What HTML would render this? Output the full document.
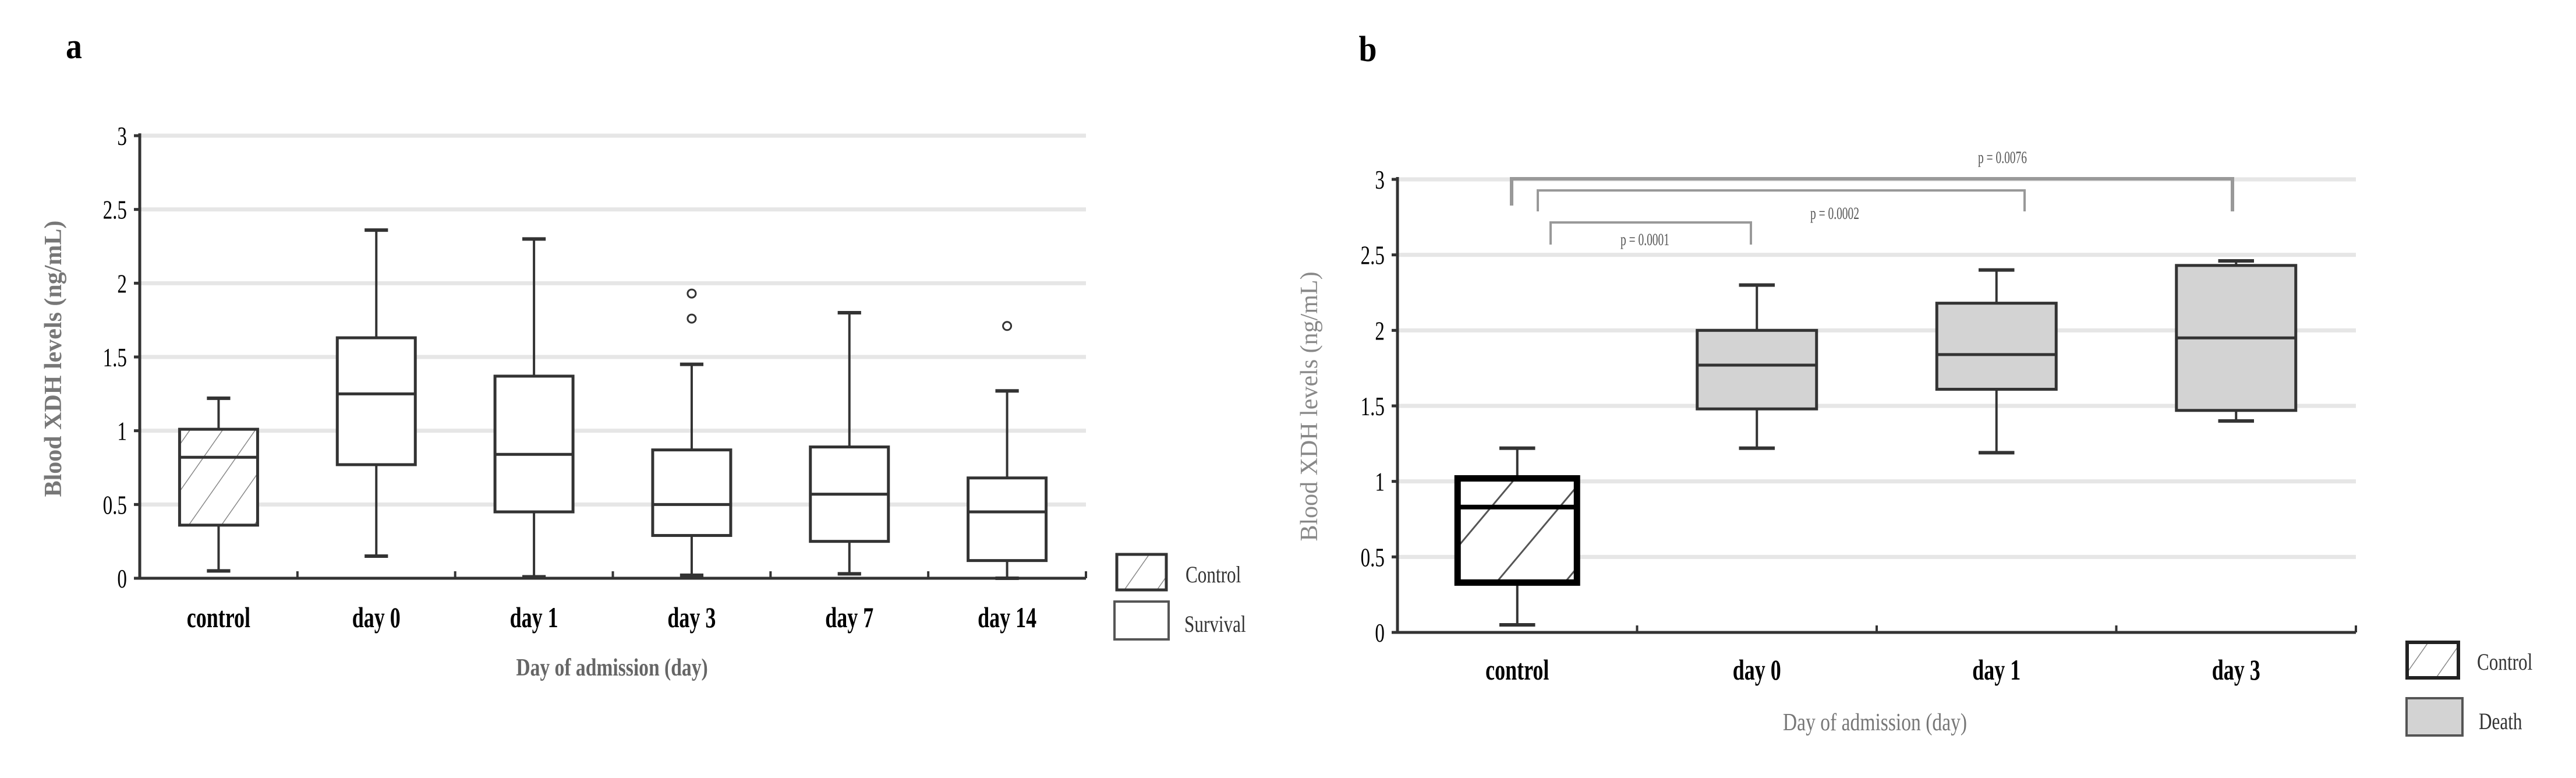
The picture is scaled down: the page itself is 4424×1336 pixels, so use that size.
<!DOCTYPE html>
<html><head><meta charset="utf-8"><style>
html,body{margin:0;padding:0;background:#fff;}
svg{display:block;font-family:"Liberation Serif",serif;}
</style></head><body>
<svg id="fig" width="4424" height="1336" viewBox="0 0 4424 1336" xmlns="http://www.w3.org/2000/svg">
<defs>
<pattern id="hatchA" patternUnits="userSpaceOnUse" width="46" height="46" patternTransform="rotate(35)">
<line x1="0" y1="0" x2="0" y2="46" stroke="#888" stroke-width="3"/></pattern>
<pattern id="hatchB" patternUnits="userSpaceOnUse" width="90" height="90" patternTransform="rotate(40)">
<line x1="0" y1="0" x2="0" y2="90" stroke="#555" stroke-width="6"/></pattern>
</defs>
<g id="pa"></g>
<g id="pb"></g>
</svg>
<script>
// Panel a data
const catsA = ["control","day 0","day 1","day 3","day 7","day 14"];
const minA = [0.05,0.15,0.01,0.02,0.03,0.00];
const q1A  = [0.36,0.77,0.45,0.29,0.25,0.12];
const medA = [0.82,1.25,0.84,0.50,0.57,0.45];
const q3A  = [1.01,1.63,1.37,0.87,0.89,0.68];
const maxA = [1.22,2.36,2.30,1.45,1.80,1.27];
const outA = [[],[],[],[1.93,1.76],[],[1.71]];
const ticksA = ["0","0.5","1","1.5","2","2.5","3"];
// Panel b data
const catsB = ["control","day 0","day 1","day 3"];
const minB = [0.05,1.22,1.19,1.40];
const q1B  = [0.33,1.48,1.61,1.47];
const medB = [0.83,1.77,1.84,1.95];
const q3B  = [1.02,2.00,2.18,2.43];
const maxB = [1.22,2.30,2.40,2.46];
const ticksB = ["0","0.5","1","1.5","2","2.5","3"];
const pLabels = ["p = 0.0076","p = 0.0002","p = 0.0001"];
const pPairs = [[0,3],[0,2],[0,1]];

const NS="http://www.w3.org/2000/svg";
function mk(parent,tag,attrs,text){const e=document.createElementNS(NS,tag);for(const k in attrs)e.setAttribute(k,attrs[k]);if(text!==undefined)e.textContent=text;parent.appendChild(e);return e;}
function ctext(parent,x,y,str,size,opts){
  const g=mk(parent,"g",{transform:`translate(${x},${y}) scale(${opts.sx||0.78},1)`});
  const t=mk(g,"text",{x:0,y:0,"font-size":size,"font-weight":opts.bold?"bold":"normal",fill:opts.fill||"#000","text-anchor":opts.anchor||"middle"},str);
  return t;
}

function panel(root,cfg){
  const {x0,x1,y0,y3,cats,mn,q1,md,q3,mx,bw,hatch,stroke}=cfg;
  const ys=v=>y0+(y3-y0)*v/3;
  const step=(x1-x0)/cats.length;
  const xs=i=>x0+step*(i+0.5);
  // gridlines
  cfg.ticks.forEach((lab,i)=>{
    const v=parseFloat(lab);
    if(v>0){const gl=mk(root,"line",{x1:x0,x2:x1,y1:ys(v),y2:ys(v),stroke:"#e6e6e6","stroke-width":7});
      
      }
    mk(root,"line",{x1:x0-10,x2:x0,y1:ys(v),y2:ys(v),stroke:"#333","stroke-width":5});
    const t=ctext(root,x0-22,ys(v)+16,lab,46,{bold:false,anchor:"end",sx:0.72});
    
    
  });
  // axes
  mk(root,"line",{x1:x0,x2:x0,y1:y3-4,y2:y0,stroke:"#333","stroke-width":5});
  mk(root,"line",{x1:x0,x2:x1,y1:y0,y2:y0,stroke:"#333","stroke-width":5});
  for(let i=1;i<=cats.length;i++) mk(root,"line",{x1:x0+step*i,x2:x0+step*i,y1:y0,y2:y0-12,stroke:"#333","stroke-width":4});
  cats.forEach((c,i)=>{
    const cx=xs(i);
    const g=mk(root,"g",{});
    
    
    const sw=(i===0&&cfg.boldCtrl)?11:5;
    const col=(i===0&&cfg.boldCtrl)?"#000":stroke;
    mk(g,"line",{x1:cx,x2:cx,y1:ys(mx[i]),y2:ys(q3[i]),stroke:stroke,"stroke-width":4});
    mk(g,"line",{x1:cx,x2:cx,y1:ys(q1[i]),y2:ys(mn[i]),stroke:stroke,"stroke-width":4});
    mk(g,"line",{x1:cx-bw*0.15,x2:cx+bw*0.15,y1:ys(mx[i]),y2:ys(mx[i]),stroke:stroke,"stroke-width":6});
    mk(g,"line",{x1:cx-bw*0.15,x2:cx+bw*0.15,y1:ys(mn[i]),y2:ys(mn[i]),stroke:stroke,"stroke-width":6});
    const fill=i===0?`url(#${hatch})`:cfg.fill;
    if(i===0) mk(g,"rect",{x:cx-bw/2,y:ys(q3[i]),width:bw,height:ys(q1[i])-ys(q3[i]),fill:"#fff"});
    mk(g,"rect",{x:cx-bw/2,y:ys(q3[i]),width:bw,height:ys(q1[i])-ys(q3[i]),fill:fill,stroke:col,"stroke-width":sw});
    mk(g,"line",{x1:cx-bw/2,x2:cx+bw/2,y1:ys(md[i]),y2:ys(md[i]),stroke:col,"stroke-width":sw===11?8:5});
    if(cfg.out) cfg.out[i].forEach(o=>{const c2=mk(g,"circle",{cx:cx,cy:ys(o),r:7,fill:"none",stroke:"#333","stroke-width":3});
      
      });
    const t=ctext(root,cx,cfg.catY,c,50,{bold:true,sx:0.72});
    
    
  });
  return {xs,ys};
}

const pa=document.getElementById("pa");
panel(pa,{x0:240,x1:1865,y0:993,y3:233,cats:catsA,mn:minA,q1:q1A,md:medA,q3:q3A,mx:maxA,out:outA,bw:134,hatch:"hatchA",stroke:"#333",fill:"#fff",ticks:ticksA,catY:1077});
let t;
t=ctext(pa,127,100,"a",62,{bold:true,sx:0.9});
t=ctext(pa,1051,1160,"Day of admission (day)",42,{bold:true,fill:"#666",sx:0.8});
{const g=mk(pa,"g",{transform:"translate(105,616) rotate(-90)"});const t2=ctext(g,0,0,"Blood XDH levels (ng/mL)",42,{bold:true,fill:"#777",sx:1});}
{const l=mk(pa,"rect",{x:1918,y:952,width:85,height:61,fill:"url(#hatchA)",stroke:"#333","stroke-width":5});
 const l2=mk(pa,"rect",{x:1914,y:1033,width:93,height:65,fill:"#fff",stroke:"#555","stroke-width":4});
 t=ctext(pa,2036,1000,"Control",40,{anchor:"start",fill:"#333",sx:0.78});
 t=ctext(pa,2034,1085,"Survival",40,{anchor:"start",fill:"#333",sx:0.78});}

const pb=document.getElementById("pb");
const axB=panel(pb,{x0:2400,x1:4046,y0:1086,y3:308,cats:catsB,mn:minB,q1:q1B,md:medB,q3:q3B,mx:maxB,bw:205,hatch:"hatchB",stroke:"#333",fill:"#d3d3d3",ticks:ticksB,catY:1167,boldCtrl:true});
t=ctext(pb,2349,105,"b",62,{bold:true,sx:0.9});
t=ctext(pb,3220,1254,"Day of admission (day)",42,{fill:"#777",sx:0.8});
{const g=mk(pb,"g",{transform:"translate(2262,698) rotate(-90)"});const t2=ctext(g,0,0,"Blood XDH levels  (ng/mL)",42,{fill:"#888",sx:1});}
// significance brackets
const brY=[307,327,382], brDrop=[[353,363],[363,363],[420,420]], brL=[2596,2641,2663], brR=[3834,3477,3007], labY=[280,376,421];
pPairs.forEach((p,k)=>{
  const g=mk(pb,"g",{});
  
  
  mk(g,"polyline",{points:`${brL[k]},${brDrop[k][0]} ${brL[k]},${brY[k]} ${brR[k]},${brY[k]} ${brR[k]},${brDrop[k][1]}`,fill:"none",stroke:"#999","stroke-width":k===0?6:4});
  const cx=k===1?3151:(k===2?2825:3439);
  const tt=ctext(g,cx,labY[k],pLabels[k],30,{fill:"#555",sx:0.65});
  
  
});
{const l=mk(pb,"rect",{x:4134,y:1103,width:88,height:61,fill:"url(#hatchA)",stroke:"#222","stroke-width":6});
 const l2=mk(pb,"rect",{x:4133,y:1199,width:96,height:64,fill:"#d3d3d3",stroke:"#555","stroke-width":4});
 t=ctext(pb,4254,1150,"Control",40,{anchor:"start",fill:"#333",sx:0.78});
 t=ctext(pb,4257,1252,"Death",40,{anchor:"start",fill:"#333",sx:0.78});}
</script>
</body></html>
